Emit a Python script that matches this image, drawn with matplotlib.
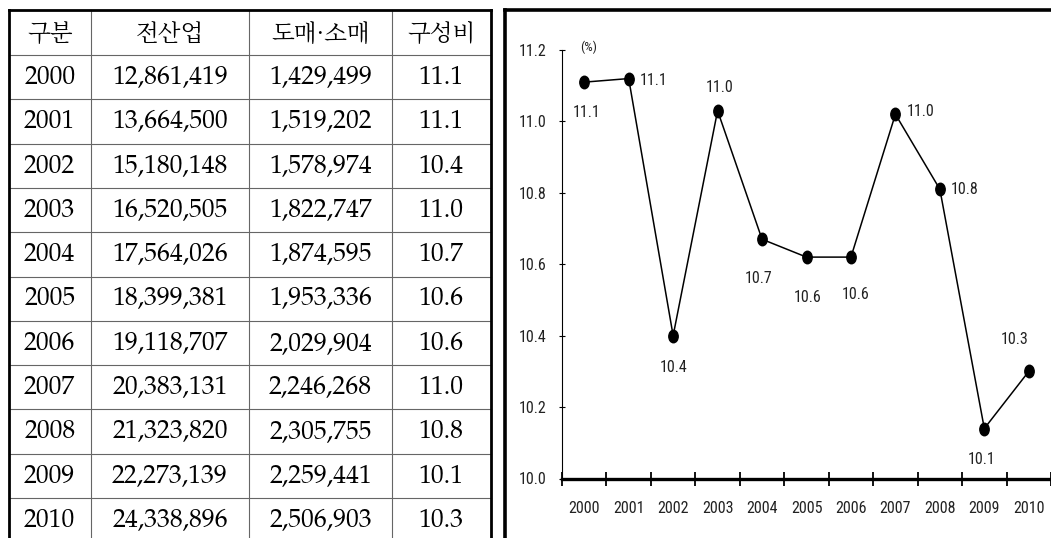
import numpy as np
import matplotlib
matplotlib.use('Agg')
import matplotlib.pyplot as plt
from matplotlib.path import Path
from matplotlib.transforms import Affine2D
from matplotlib.ticker import MultipleLocator, FormatStrFormatter

narrow = ['Liberation Sans Narrow', 'Arial Narrow', 'Roboto Condensed', 'Open Sans Condensed',
          'Fira Sans Condensed', 'DejaVu Sans']
plt.rcParams['font.family'] = narrow

# table data
headers = ['구분', '전산업', '도매·소매', '구성비']
years = ['2000', '2001', '2002', '2003', '2004', '2005', '2006', '2007', '2008', '2009', '2010']
all_industry = ['12,861,419', '13,664,500', '15,180,148', '16,520,505', '17,564,026', '18,399,381',
                '19,118,707', '20,383,131', '21,323,820', '22,273,139', '24,338,896']
wholesale_retail = ['1,429,499', '1,519,202', '1,578,974', '1,822,747', '1,874,595', '1,953,336',
                    '2,029,904', '2,246,268', '2,305,755', '2,259,441', '2,506,903']
share_text = ['11.1', '11.1', '10.4', '11.0', '10.7', '10.6', '10.6', '11.0', '10.8', '10.1', '10.3']

# line chart data (%)
share = [11.11, 11.12, 10.40, 11.03, 10.67, 10.62, 10.62, 11.02, 10.81, 10.14, 10.30]

# label offsets in pixels (dx, dy), dy positive = up
label_offsets = [(2, -30), (25, -2), (0, -32), (2, 23), (-3, -39), (1, -40),
                 (5, -37), (25, 3), (25, 0), (-3, -31), (-14, 32)]

W, H = 1051, 538
fig = plt.figure(figsize=(W / 100, H / 100), dpi=100)

# ---- table, drawn in pixel coordinates
bg = fig.add_axes([0, 0, 1, 1])
bg.set_xlim(0, W)
bg.set_ylim(H, 0)
bg.axis('off')

col_edges = [8.5, 91, 249, 392, 490.5]
row_edges = [10, 55] + [55 + 44.3 * i for i in range(1, 12)]

for xv in col_edges[1:-1]:
    bg.plot([xv, xv], [10, H], color='#666666', lw=0.8)
for yv in row_edges[1:]:
    bg.plot([col_edges[0], col_edges[-1]], [yv, yv], color='#666666', lw=0.8)
bg.plot([col_edges[0], col_edges[0]], [10, H + 5], color='black', lw=2)
bg.plot([col_edges[-1], col_edges[-1]], [10, H + 5], color='black', lw=2)
bg.plot([col_edges[0], col_edges[-1]], [10, 10], color='black', lw=2)

col_centers = [(col_edges[i] + col_edges[i + 1]) / 2 for i in range(4)]
kr_serif = ['Noto Serif CJK KR', 'Noto Sans CJK KR', 'DejaVu Sans']
for j, h in enumerate(headers):
    bg.text(col_centers[j], (row_edges[0] + row_edges[1]) / 2 + 1, h, ha='center', va='center',
            fontsize=17, family=kr_serif, weight='light')

serif = ['P052', 'TeX Gyre Pagella', 'URW Palladio L', 'Liberation Serif', 'DejaVu Serif']
for i in range(len(years)):
    yc = (row_edges[i + 1] + row_edges[i + 2]) / 2 + 1
    row = [years[i], all_industry[i], wholesale_retail[i], share_text[i]]
    for j, s in enumerate(row):
        bg.text(col_centers[j], yc, s, ha='center', va='center', fontsize=18.5, family=serif)

# frame around chart
bg.plot([505, 505], [10, H + 5], color='black', lw=2.6)
bg.plot([505, W + 5], [10, 10], color='black', lw=2.6)

# ---- line chart
x0, y0, y1 = 562, 478.5, 50
cat_w = 44.9
ax = fig.add_axes([x0 / W, (H - y0) / H, (W - x0) / W, (y0 - y1) / H])
ax.patch.set_visible(False)

ellipse = Path.unit_circle().transformed(Affine2D().scale(0.75, 1.0))
x = np.arange(len(years))
ax.plot(x, share, color='black', lw=1.1, marker=ellipse, ms=9,
        mfc='black', mec='black', clip_on=False, zorder=3)

for xi, v, t, (dx, dy) in zip(x, share, share_text, label_offsets):
    ax.annotate(t, (xi, v), xytext=(dx, dy), textcoords='offset pixels',
                ha='center', va='center', fontsize=11.5, color='#222222')

ax.set_xlim(-0.5, -0.5 + (W - x0) / cat_w)
ax.set_ylim(10.0, 11.2)
ax.spines['top'].set_visible(False)
ax.spines['right'].set_visible(False)
ax.spines['left'].set_linewidth(0.8)
ax.spines['bottom'].set_linewidth(2.4)

ax.yaxis.set_major_locator(MultipleLocator(0.2))
ax.yaxis.set_major_formatter(FormatStrFormatter('%.1f'))
ax.tick_params(axis='y', direction='inout', length=4.7, width=0.8, pad=9, labelsize=11.5,
               labelcolor='#222222')

ax.set_xticks(x, years)
ax.set_xticks(np.arange(-0.5, len(years)), minor=True)
ax.tick_params(axis='x', which='major', length=0, pad=16, labelsize=11.5, labelcolor='#222222')
ax.tick_params(axis='x', which='minor', direction='inout', length=10, width=1.3)

ax.text(589, 47, '(%)', transform=bg.transData, ha='center', va='center', fontsize=9.5,
        color='#222222')

fig.savefig('out.png', dpi=100)
